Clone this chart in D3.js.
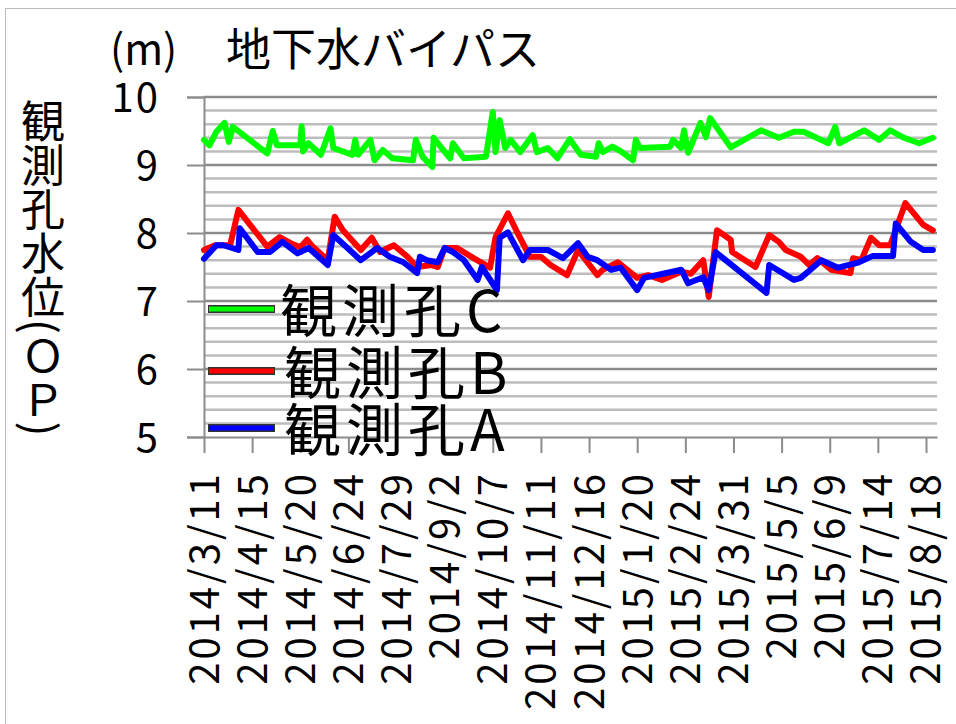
<!DOCTYPE html>
<html>
<head>
<meta charset="utf-8">
<script src="https://cdn.jsdelivr.net/npm/d3@7"></script>
<style>
  body { margin: 0; background: #fff; }
  text { font-family: "Noto Sans CJK JP", "DejaVu Sans", sans-serif; fill: #000; }
</style>
</head>
<body>
<svg id="chart"></svg>
<script>
// x axis tick labels (every 35 days)
const xTickLabels = ["2014/3/11", "2014/4/15", "2014/5/20", "2014/6/24", "2014/7/29", "2014/9/2",
    "2014/10/7", "2014/11/11", "2014/12/16", "2015/1/20", "2015/2/24", "2015/3/31",
    "2015/5/5", "2015/6/9", "2015/7/14", "2015/8/18"];
const yTicks = [5, 6, 7, 8, 9, 10];

// 観測孔C
const cDates = ["2014/3/11", "2014/3/15", "2014/3/20", "2014/3/26", "2014/3/29", "2014/4/1", "2014/4/26", "2014/4/30",
    "2014/5/3", "2014/5/20", "2014/5/21", "2014/5/22", "2014/5/26", "2014/6/4", "2014/6/11", "2014/6/13", "2014/6/27",
    "2014/6/29", "2014/7/1", "2014/7/10", "2014/7/13", "2014/7/19", "2014/7/26", "2014/8/10", "2014/8/12", "2014/8/17",
    "2014/8/24", "2014/8/25", "2014/9/1", "2014/9/6", "2014/9/8", "2014/9/16", "2014/10/2", "2014/10/7", "2014/10/9",
    "2014/10/12", "2014/10/16", "2014/10/20", "2014/10/27", "2014/11/5", "2014/11/8", "2014/11/16", "2014/11/23",
    "2014/12/2", "2014/12/10", "2014/12/21", "2014/12/23", "2014/12/26", "2015/1/2", "2015/1/9", "2015/1/17",
    "2015/1/19", "2015/1/22", "2015/2/13", "2015/2/15", "2015/2/21", "2015/2/23", "2015/2/26", "2015/3/7", "2015/3/11",
    "2015/3/14", "2015/3/29", "2015/4/20", "2015/5/3", "2015/5/14", "2015/5/21", "2015/6/8", "2015/6/13", "2015/6/16",
    "2015/7/4", "2015/7/15", "2015/7/23", "2015/8/2", "2015/8/13", "2015/8/23"];
const cLevels = [9.37, 9.29, 9.49, 9.62, 9.34, 9.56, 9.17, 9.5,
    9.29, 9.29, 9.57, 9.2, 9.32, 9.15, 9.54, 9.25, 9.15,
    9.37, 9.15, 9.37, 9.07, 9.22, 9.1, 9.07, 9.37, 9.12,
    8.97, 9.4, 9.22, 9.1, 9.32, 9.1, 9.12, 9.78, 9.19,
    9.66, 9.25, 9.37, 9.19, 9.44, 9.19, 9.25, 9.1,
    9.38, 9.15, 9.12, 9.32, 9.19, 9.27, 9.19, 9.07,
    9.37, 9.25, 9.27, 9.37, 9.25, 9.51, 9.18, 9.62, 9.41,
    9.69, 9.26, 9.51, 9.4, 9.49, 9.49, 9.32, 9.56, 9.32,
    9.51, 9.37, 9.51, 9.4, 9.32, 9.4];

// 観測孔B
const bDates = ["2014/3/11", "2014/3/19", "2014/3/30", "2014/4/5", "2014/4/26", "2014/5/5", "2014/5/13", "2014/5/20",
    "2014/5/25", "2014/5/29", "2014/6/9", "2014/6/14", "2014/6/20", "2014/7/3", "2014/7/11", "2014/7/17", "2014/7/27",
    "2014/8/6", "2014/8/13", "2014/8/23", "2014/8/28", "2014/9/2", "2014/9/11", "2014/9/23", "2014/10/5", "2014/10/9",
    "2014/10/18", "2014/10/25", "2014/11/3", "2014/11/11", "2014/11/18", "2014/11/30", "2014/12/8", "2014/12/22",
    "2014/12/26", "2015/1/6", "2015/1/20", "2015/1/28", "2015/2/7", "2015/2/21", "2015/2/28", "2015/3/9", "2015/3/13",
    "2015/3/19", "2015/3/29", "2015/3/30", "2015/4/16", "2015/4/26", "2015/5/3", "2015/5/8", "2015/5/19", "2015/5/25",
    "2015/5/31", "2015/6/10", "2015/6/24", "2015/6/26", "2015/7/2", "2015/7/9", "2015/7/15", "2015/7/23", "2015/8/3",
    "2015/8/16", "2015/8/23"];
const bLevels = [7.75, 7.82, 7.82, 8.34, 7.8, 7.94, 7.85, 7.79,
    7.9, 7.8, 7.6, 8.24, 8.04, 7.75, 7.93, 7.72, 7.82,
    7.65, 7.5, 7.53, 7.5, 7.78, 7.78, 7.63, 7.49, 7.94,
    8.29, 8.0, 7.65, 7.65, 7.53, 7.38, 7.75, 7.38,
    7.46, 7.57, 7.34, 7.38, 7.31, 7.43, 7.4, 7.6, 7.06,
    8.04, 7.9, 7.72, 7.5, 7.97, 7.87, 7.75, 7.65, 7.53,
    7.63, 7.46, 7.41, 7.63, 7.6, 7.93, 7.82, 7.82, 8.44,
    8.12, 8.04];

// 観測孔A
const aDates = ["2014/3/11", "2014/3/20", "2014/3/25", "2014/4/5", "2014/4/6", "2014/4/19", "2014/4/28", "2014/5/7",
    "2014/5/18", "2014/5/26", "2014/6/9", "2014/6/13", "2014/7/3", "2014/7/15", "2014/7/24", "2014/8/3", "2014/8/13",
    "2014/8/15", "2014/8/20", "2014/8/28", "2014/9/2", "2014/9/8", "2014/9/16", "2014/9/26", "2014/9/29", "2014/10/10",
    "2014/10/12", "2014/10/18", "2014/10/29", "2014/11/3", "2014/11/16", "2014/11/27", "2014/12/8", "2014/12/15",
    "2014/12/22", "2015/1/1", "2015/1/8", "2015/1/20", "2015/1/25", "2015/2/21", "2015/2/26", "2015/3/9", "2015/3/13",
    "2015/3/18", "2015/4/24", "2015/4/26", "2015/5/14", "2015/5/19", "2015/6/3", "2015/6/15", "2015/6/29", "2015/7/10",
    "2015/7/25", "2015/7/27", "2015/8/7", "2015/8/16", "2015/8/23"];
const aLevels = [7.62, 7.82, 7.82, 7.75, 8.07, 7.72, 7.72, 7.87,
    7.7, 7.78, 7.53, 7.97, 7.6, 7.78, 7.65, 7.57, 7.41,
    7.65, 7.6, 7.57, 7.78, 7.72, 7.6, 7.31, 7.5, 7.16,
    7.93, 8.01, 7.6, 7.75, 7.75, 7.63, 7.85, 7.65,
    7.6, 7.46, 7.49, 7.16, 7.34, 7.46, 7.26, 7.35, 7.16,
    7.72, 7.12, 7.53, 7.31, 7.34, 7.6, 7.49, 7.56, 7.66,
    7.66, 8.14, 7.87, 7.75, 7.75];

// layout
const width = 956;
const height = 724;
const plot = { left: 204, right: 937, top: 97, bottom: 437 };

const parseDate = d3.timeParse("%Y/%m/%d");

const svg = d3.select('#chart')
    .attr('width', width)
    .attr('height', height);

// chart frame (left and top edges visible)
svg.append('rect')
    .attr('x', 5.5).attr('y', 8.5)
    .attr('width', 960).attr('height', 730)
    .attr('fill', '#fff')
    .attr('stroke', '#bcbcbc');

// scales
const x = d3.scaleTime()
    .domain([parseDate("2014/3/11"), parseDate("2015/8/26")])
    .range([plot.left, plot.right]);
const y = d3.scaleLinear()
    .domain([5, 10])
    .range([plot.bottom, plot.top]);

// minor gridlines every 0.2
const minor = d3.range(5.2, 10, 0.2).filter(v => Math.abs(v - Math.round(v)) > 0.01);
svg.append('g').selectAll('line')
    .data(minor)
    .join('line')
    .attr('x1', plot.left).attr('x2', plot.right)
    .attr('y1', d => y(d)).attr('y2', d => y(d))
    .attr('stroke', '#bdbdbd')
    .attr('stroke-width', 2.5);

// major gridlines
svg.append('g').selectAll('line')
    .data(yTicks.filter(v => v > 5))
    .join('line')
    .attr('x1', plot.left).attr('x2', plot.right)
    .attr('y1', d => y(d)).attr('y2', d => y(d))
    .attr('stroke', '#8c8c8c')
    .attr('stroke-width', 2.5);

// Y axis
const yAxis = svg.append('g')
    .attr('transform', 'translate(' + plot.left + ',0)')
    .call(d3.axisLeft(y).tickValues(yTicks).tickFormat(d3.format('d')).tickSize(17).tickPadding(27));
yAxis.select('.domain').attr('stroke', '#8c8c8c').attr('stroke-width', 2);
yAxis.selectAll('.tick line').attr('stroke', '#8c8c8c').attr('stroke-width', 2);
yAxis.selectAll('.tick text')
    .attr('font-size', 40)
    .attr('font-family', '"Noto Sans CJK JP", sans-serif')
    .attr('letter-spacing', 2)
    .attr('dy', '0.35em');

// X axis
const xAxis = svg.append('g')
    .attr('transform', 'translate(0,' + plot.bottom + ')')
    .call(d3.axisBottom(x)
        .tickValues(xTickLabels.map(parseDate))
        .tickFormat((d, i) => xTickLabels[i])
        .tickSize(16)
        .tickSizeOuter(0));
xAxis.select('.domain').attr('stroke', '#8c8c8c').attr('stroke-width', 2);
xAxis.selectAll('.tick line').attr('stroke', '#8c8c8c').attr('stroke-width', 2);
xAxis.selectAll('.tick text')
    .attr('font-size', 40)
    .attr('font-family', '"Noto Sans CJK JP", sans-serif')
    .attr('letter-spacing', 3)
    .attr('text-anchor', 'end')
    .attr('transform', 'translate(0,34) rotate(-90)')
    .attr('x', 0).attr('y', 0)
    .attr('dy', '0.35em');

// lines
const series = [
    { name: "観測孔C", dates: cDates, values: cLevels, color: "#00ff00" },
    { name: "観測孔B", dates: bDates, values: bLevels, color: "#ff0000" },
    { name: "観測孔A", dates: aDates, values: aLevels, color: "#0000ff" }
];
const line = d3.line()
    .x(d => x(d.date))
    .y(d => y(d.value));
series.forEach(s => {
    const pts = s.dates.map((d, i) => ({ date: parseDate(d), value: s.values[i] }));
    svg.append('path')
        .datum(pts)
        .attr('fill', 'none')
        .attr('stroke', s.color)
        .attr('stroke-width', 6)
        .attr('stroke-linejoin', 'round')
        .attr('stroke-linecap', 'round')
        .attr('d', line);
});

// legend
const legend = svg.append('g');
const legendY = [309, 371, 428];
series.forEach((s, i) => {
    const ly = legendY[i];
    legend.append('line')
        .attr('x1', 208).attr('x2', 275)
        .attr('y1', ly).attr('y2', ly)
        .attr('stroke', '#333')
        .attr('stroke-width', 8);
    legend.append('line')
        .attr('x1', 209).attr('x2', 274)
        .attr('y1', ly).attr('y2', ly)
        .attr('stroke', s.color)
        .attr('stroke-width', 5);
    legend.append('text')
        .attr('x', 280 + (i > 0 ? 4 : 0))
        .attr('y', ly + 3)
        .attr('dy', '0.35em')
        .attr('font-size', 57)
        .attr('letter-spacing', 5)
        .text(s.name);
});

// titles
svg.append('text')
    .attr('x', 110).attr('y', 50)
    .attr('dy', '0.35em')
    .attr('font-size', 42)
    .text("(m)");
svg.append('text')
    .attr('x', 226).attr('y', 50)
    .attr('dy', '0.35em')
    .attr('font-size', 45)
    .text("地下水バイパス");

// vertical y axis title
svg.append('text')
    .attr('x', 43).attr('y', 99)
    .attr('font-size', 44)
    .style('writing-mode', 'vertical-rl')
    .text("観測孔水位(ＯＰ)");
</script>
</body>
</html>
